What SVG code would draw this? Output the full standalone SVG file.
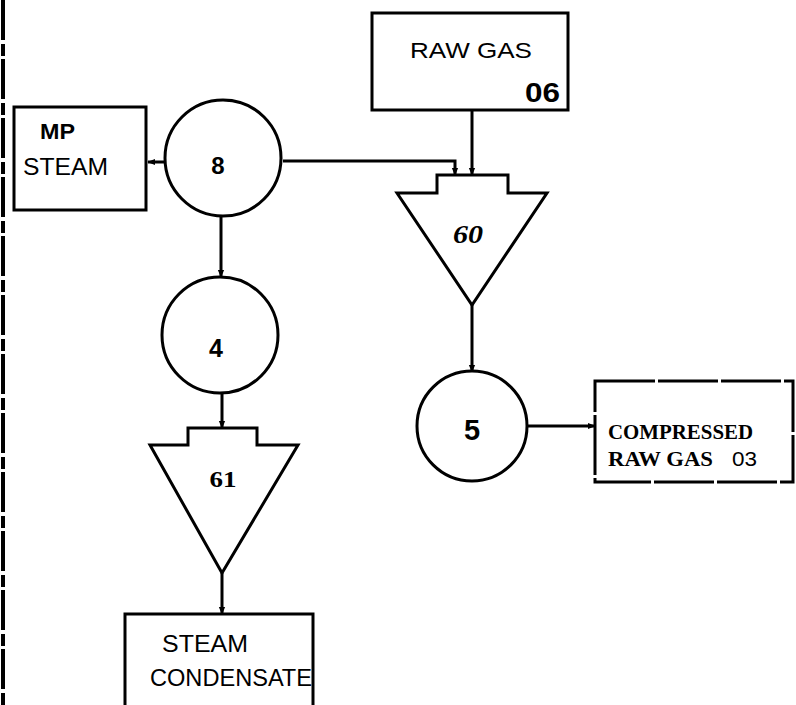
<svg xmlns="http://www.w3.org/2000/svg" width="796" height="705" viewBox="0 0 796 705">
<defs>
<marker id="ah" viewBox="0 0 10 10" refX="9" refY="5" markerWidth="8" markerHeight="8" markerUnits="userSpaceOnUse" orient="auto">
<path d="M0,1 L10,5 L0,9 Z" fill="#000"/>
</marker>
</defs>
<style>
.sh{fill:#fff;stroke:#000;stroke-width:3}
.cn{fill:none;stroke:#000;stroke-width:3;marker-end:url(#ah)}
.lb{font-family:"Liberation Sans",Arial,sans-serif;fill:#000}
.nm{font-family:"Liberation Sans",Arial,sans-serif;font-weight:bold;fill:#000;text-anchor:middle}
.tw{font-family:"Liberation Serif","Times New Roman",serif;font-weight:bold;fill:#000}
</style>
<rect width="796" height="705" fill="#fff"/>
<line x1="3" y1="0" x2="3" y2="705" stroke="#000" stroke-width="4" stroke-dasharray="40,4,12,3"/>
<g id="connectors">
<path class="cn" d="M165,162 H148"/>
<path class="cn" d="M283,161 H455 V175"/>
<path class="cn" d="M472,110 V175"/>
<path class="cn" d="M472,305 V372"/>
<path class="cn" d="M528,426 H595"/>
<path class="cn" d="M221,216 V277"/>
<path class="cn" d="M222,393 V428"/>
<path class="cn" d="M222,573 V614"/>
</g>
<g id="mp-steam">
<rect class="sh" x="14" y="107" width="132" height="103"/>
<text class="lb" x="40" y="139" font-size="22" font-weight="bold" textLength="35" lengthAdjust="spacingAndGlyphs">MP</text>
<text class="lb" x="23" y="175" font-size="23" textLength="85" lengthAdjust="spacingAndGlyphs">STEAM</text>
</g>
<g id="node-8">
<circle class="sh" cx="223" cy="158" r="58"/>
<text class="nm" x="218" y="174" font-size="24">8</text>
</g>
<g id="raw-gas">
<rect class="sh" x="372" y="13" width="196" height="97"/>
<text class="lb" x="410" y="58" font-size="22" textLength="122" lengthAdjust="spacingAndGlyphs">RAW GAS</text>
<text class="lb" x="525" y="102" font-size="28" font-weight="bold" textLength="35" lengthAdjust="spacingAndGlyphs">06</text>
</g>
<g id="node-60">
<path class="sh" d="M437,175 H508 V193 H547 L472,305 L397,193 H437 Z"/>
<text class="tw" x="468" y="243" font-size="26" font-style="italic" text-anchor="middle" textLength="30" lengthAdjust="spacingAndGlyphs">60</text>
</g>
<g id="node-4">
<circle class="sh" cx="220" cy="335" r="58"/>
<text class="nm" x="216" y="357" font-size="25">4</text>
</g>
<g id="node-5">
<circle class="sh" cx="472" cy="426" r="55"/>
<text class="nm" x="472" y="440" font-size="29">5</text>
</g>
<g id="compressed-raw-gas">
<rect class="sh" x="595" y="381" width="198" height="101" stroke-dasharray="60,3"/>
<text class="tw" x="608" y="439" font-size="20" textLength="145" lengthAdjust="spacingAndGlyphs">COMPRESSED</text>
<text class="tw" x="608" y="466" font-size="20" textLength="105" lengthAdjust="spacingAndGlyphs">RAW GAS</text>
<text class="lb" x="732" y="466" font-size="21" textLength="25" lengthAdjust="spacingAndGlyphs">03</text>
</g>
<g id="node-61">
<path class="sh" d="M188,428 H257 V445 H298 L222,573 L150,445 H188 Z"/>
<text class="tw" x="223" y="487" font-size="24" text-anchor="middle" textLength="27" lengthAdjust="spacingAndGlyphs">61</text>
</g>
<g id="steam-condensate">
<rect class="sh" x="125" y="614" width="188" height="100"/>
<text class="lb" x="162" y="652" font-size="23" textLength="86" lengthAdjust="spacingAndGlyphs">STEAM</text>
<text class="lb" x="150" y="686" font-size="23" textLength="162" lengthAdjust="spacingAndGlyphs">CONDENSATE</text>
</g>
</svg>
